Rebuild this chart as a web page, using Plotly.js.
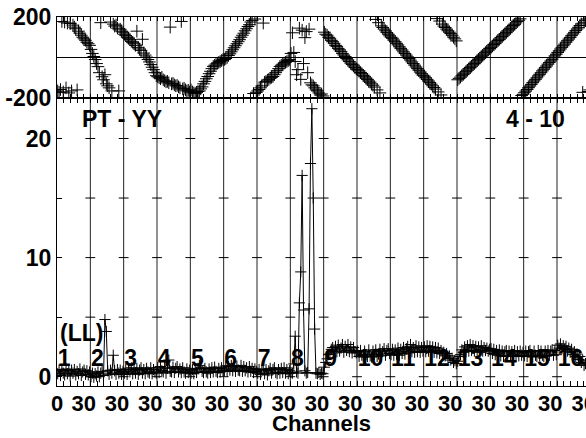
<!DOCTYPE html>
<html><head><meta charset="utf-8">
<script src="https://cdn.plot.ly/plotly-3.0.1.min.js"></script>
<style>html,body{margin:0;padding:0;background:#fff}</style>
</head><body><div id="chart" style="width:586px;height:438px"></div>
<script>
// ---- data: 16 IFs x 24 channels ----
const nCh = 24;
const ifLabels = ['1','2','3','4','5','6','7','8','9','10','11','12','13','14','15','16'];

// amplitude per IF
const amp1  = [0.25,0.55,0.10,0.60,0.30,0.15,0.65,0.25,0.50,0.05,0.55,0.30,0.60,0.15,0.45,0.25,0.65,0.10,0.40,0.55,0.20,0.50,0.15,0.40];
const amp2  = [0.00,0.30,-0.05,0.25,0.05,0.40,0.00,0.30,0.45,0.10,4.80,3.80,0.50,0.20,0.55,0.30,1.80,0.50,0.20,0.60,0.30,0.55,0.20,0.45];
const amp3  = [0.30,0.65,0.20,0.60,0.40,0.75,0.25,0.60,0.30,0.70,0.20,0.55,0.75,0.30,0.60,0.25,0.70,0.40,0.30,0.75,0.25,0.60,0.40,0.30];
const amp4  = [0.75,0.35,0.85,0.50,0.40,0.80,0.30,0.70,1.40,0.45,0.40,0.80,0.35,0.70,0.85,0.40,0.65,0.35,0.75,0.40,0.30,0.65,0.35,0.55];
const amp5  = [0.30,0.60,0.25,0.65,0.35,0.70,0.95,0.80,0.45,0.35,0.70,0.40,0.30,0.65,0.35,0.75,0.40,0.80,0.45,0.35,0.70,0.40,0.75,0.50];
const amp6  = [0.50,0.90,0.45,0.85,0.55,0.95,0.50,0.85,0.45,0.90,0.55,0.50,0.95,0.45,0.85,0.50,0.75,0.40,0.85,0.45,0.70,0.35,0.65,0.45];
const amp7  = [0.30,0.60,0.20,0.55,0.65,0.25,0.60,0.15,0.50,0.70,0.30,0.60,0.75,0.35,0.25,0.60,0.30,0.70,0.35,0.75,0.30,0.60,0.25,0.50];
const amp8  = [0.35,0.30,1.07,3.40,0.40,0.30,6.20,8.80,16.9,5.60,0.50,0.30,0.35,5.70,17.9,22.5,15.0,4.00,0.30,0.25,0.35,0.20,0.30,0.25];
const amp9  = [0.80,1.20,1.50,1.85,1.90,2.30,2.45,2.00,2.55,2.10,2.65,2.15,2.40,2.70,2.05,2.55,2.20,2.70,2.10,2.50,2.00,2.45,2.10,2.00];
const amp10 = [2.15,1.70,2.20,1.80,1.65,2.15,1.85,1.70,2.25,1.75,1.65,2.15,1.85,2.25,1.70,1.90,2.30,1.75,2.10,2.35,1.80,2.20,2.35,1.95];
const amp11 = [1.85,2.30,1.80,2.25,1.90,2.40,1.80,2.30,1.95,2.45,1.90,2.35,2.55,2.00,2.70,2.10,2.45,2.05,2.60,2.10,2.50,2.05,2.45,2.15];
const amp12 = [2.50,2.10,2.60,2.15,2.55,2.10,2.50,2.05,2.45,2.00,2.40,1.95,2.20,1.90,2.05,1.75,1.95,1.55,1.75,1.40,1.55,1.20,1.35,1.10];
const amp13 = [1.30,1.70,1.85,2.25,2.05,2.50,2.10,2.60,2.15,2.70,2.20,2.60,2.15,2.55,2.10,2.50,2.05,2.60,2.15,2.45,2.20,2.40,2.15,2.30];
const amp14 = [2.35,1.95,2.30,1.85,2.20,1.80,2.25,1.75,2.15,1.70,2.10,2.20,1.75,2.15,1.70,2.10,1.75,2.20,1.70,2.10,1.75,2.15,1.80,2.05];
const amp15 = [1.75,2.15,1.70,2.10,2.20,1.75,1.65,2.15,1.80,1.70,2.20,1.75,2.15,1.80,1.70,2.15,1.75,2.20,1.80,2.15,2.25,1.80,2.20,1.85];
const amp16 = [2.65,2.40,2.75,2.35,2.60,2.30,2.55,2.15,2.40,2.05,2.30,1.85,2.10,1.70,1.90,1.45,1.70,1.20,1.40,0.95,1.10,0.75,0.90,0.60];

// phase per IF (degrees)
const ph1  = [-165,-172,-158,178,-170,175,-150,170,-175,168,-165,160,150,142,-160,130,120,110,100,92,85,75,68,60];
const ph2  = [40,20,5,-10,-30,-45,-75,172,-95,-110,-85,-130,-140,-150,175,-165,165,155,160,145,-165,140,130,125];
const ph3  = [115,108,100,95,88,80,75,68,60,130,50,42,35,90,22,12,2,-10,-22,-35,-48,-60,-75,-90];
const ph4  = [-95,-100,-105,-98,-110,-115,-120,-118,-125,150,-130,-128,-135,-140,-138,-145,-150,178,-155,-152,-160,-165,-162,-170];
const ph5  = [-160,-170,-175,-178,-172,-168,-165,-155,-145,-130,-118,-105,-94,-80,-68,-55,-44,-38,-32,-28,-24,-20,-15,-10];
const ph6  = [-10,-5,0,10,18,28,38,48,58,68,78,88,100,110,120,132,142,153,162,175,183,-178,190,-172];
const ph7  = [-165,-158,-150,-140,170,-122,-118,-112,-108,-102,-98,-94,-85,-75,-65,-55,-44,-38,-33,-28,-24,-20,-15,-10];
const ph8  = [20,122,25,-20,-85,-60,145,-108,135,-30,98,128,-75,140,-125,-135,-140,-150,-160,-165,-175,-185,-180,-190];
const ph9  = [125,115,110,100,95,85,78,70,60,55,45,38,30,20,12,5,-5,-12,-20,-28,-35,-42,-50,-57];
const ph10 = [-60,-66,-74,-80,-88,-95,-102,-108,-116,-122,-130,-137,-146,188,-160,172,-175,156,148,140,132,123,115,107];
const ph11 = [100,95,86,78,70,62,53,45,37,28,20,12,3,-5,-13,-22,-30,-38,-47,-55,-63,-72,-80,-88];
const ph12 = [-92,-100,-108,-116,-124,-132,-140,-148,-156,192,-170,180,-185,165,155,148,140,132,125,118,110,100,92,82];
const ph13 = [-110,-103,-97,-90,-83,-77,-70,-63,-56,-50,-43,-36,-30,-23,-16,-9,-3,4,11,17,24,31,37,44];
const ph14 = [50,57,64,70,77,84,90,97,104,111,117,124,131,137,144,151,158,164,171,178,184,191,-188,-182];
const ph15 = [-174,-166,-158,-149,-141,-133,-124,-116,-108,-100,-91,-83,-75,-66,-58,-50,-42,-33,-25,-17,-9,0,8,16];
const ph16 = [25,33,42,50,58,66,75,83,91,99,108,116,124,133,141,149,158,166,-172,174,182,190,-168,-160];

const ampSeg = [amp1,amp2,amp3,amp4,amp5,amp6,amp7,amp8,amp9,amp10,amp11,amp12,amp13,amp14,amp15,amp16];
const phSeg  = [ph1,ph2,ph3,ph4,ph5,ph6,ph7,ph8,ph9,ph10,ph11,ph12,ph13,ph14,ph15,ph16];

// axis tick labels
const firstChanLabel = '0';
const chanLabel = '30';
const ampTickVals = [0,5,10,15,20];
const ampTickText = ['0','','10','','20'];
const phTickVals = [-200,0,200];
const phTickText = ['-200','','200'];

// ---- build ----
const nIF = ifLabels.length;
const X = [], A = [], P = [];
for (let i = 0; i < nIF; i++) {
  for (let k = 0; k < nCh; k++) {
    X.push(i + (k + 0.5) / nCh);
    A.push(ampSeg[i][k]);
    P.push(phSeg[i][k]);
  }
}
const tv = [], tt = [];
for (let i = 0; i <= nIF; i++) {
  for (let j = 0; j < 5; j++) {
    const v = +(i + j * 0.2).toFixed(2);
    if (v > nIF) break;
    tv.push(v);
    tt.push(v === 0 ? firstChanLabel : (j === 4 ? chanLabel : ''));
  }
}
const gx = [], gy = [];
for (let i = 1; i <= nIF; i++) for (const v of ampTickVals) { gx.push(i); gy.push(v); }

const F = 'Liberation Sans, Arial, sans-serif';
const bold = {family: F, size: 23, color: '#000', weight: 'bold'};
const boldX = {family: F, size: 22, color: '#000', weight: 'bold'};

const traces = [
  {x: gx, y: gy, xaxis: 'x', yaxis: 'y', mode: 'markers', cliponaxis: false, hoverinfo: 'skip',
   marker: {symbol: 'line-ew', size: 7, color: '#000', line: {width: 1, color: '#000'}}, showlegend: false},
  {x: ifLabels.map((_, i) => i + 0.02), y: ifLabels.map(() => 1.4), xaxis: 'x', yaxis: 'y', mode: 'text',
   text: ifLabels, textposition: 'middle right', textfont: bold, showlegend: false, hoverinfo: 'skip'},
  {x: X, y: A, xaxis: 'x', yaxis: 'y', mode: 'lines+markers', showlegend: false,
   line: {color: '#000', width: 1},
   marker: {symbol: 'cross-thin-open', size: 8, color: '#000', line: {width: 1, color: '#000'}}},
  {x: X, y: P, xaxis: 'x2', yaxis: 'y2', mode: 'markers', showlegend: false,
   marker: {symbol: 'cross-thin-open', size: 9, color: '#000', line: {width: 1, color: '#000'}}}
];

const shapes = [];
for (let i = 1; i < nIF; i++) {
  shapes.push({type: 'line', xref: 'x', yref: 'paper', x0: i, x1: i, y0: 0, y1: 1, layer: 'below',
               line: {color: '#222', width: 1}});
}

const split = 0.7805;
const layout = {
  width: 586, height: 438,
  margin: {l: 57, r: 0, t: 17, b: 52},
  paper_bgcolor: '#fff', plot_bgcolor: '#fff',
  font: bold,
  showlegend: false,
  xaxis: {anchor: 'y', domain: [0, 1], range: [0, 15.87], tickmode: 'array', tickvals: tv, ticktext: tt,
          ticks: 'inside', ticklen: 5, tickcolor: '#000', showline: true, linecolor: '#000', mirror: 'ticks',
          showgrid: false, zeroline: false, tickfont: boldX, tickangle: 0, ticklabeloverflow: 'allow',
          ticklabelstandoff: -2},
  xaxis2: {anchor: 'y2', matches: 'x', range: [0, 15.87], tickmode: 'array', tickvals: tv, showticklabels: false,
           ticks: 'inside', ticklen: 4, tickcolor: '#000', showline: true, linecolor: '#000', mirror: 'ticks',
           showgrid: false, zeroline: false},
  yaxis: {anchor: 'x', domain: [0, split], range: [-0.78, 23.4], tickmode: 'array', tickvals: ampTickVals,
          ticktext: ampTickText, ticks: 'inside', ticklen: 5, tickcolor: '#000', showline: true, linecolor: '#000',
          showgrid: false, zeroline: false, tickfont: bold},
  yaxis2: {anchor: 'x2', domain: [split, 1], range: [-200, 200], tickmode: 'array', tickvals: phTickVals,
           ticktext: phTickText, ticks: '', showline: true, linecolor: '#000',
           showgrid: true, gridcolor: '#000', gridwidth: 1, zeroline: false, tickfont: bold},
  shapes: shapes,
  annotations: [
    {text: 'Channels', xref: 'paper', yref: 'paper', x: 0.5, y: 0, xanchor: 'center', yanchor: 'top',
     yshift: -23, showarrow: false, font: {family: F, size: 22, color: '#000', weight: 'bold'}},
    {text: 'PT - YY', xref: 'x', yref: 'y', x: 0.7, y: 21.6, xanchor: 'left', yanchor: 'middle', showarrow: false, font: bold},
    {text: '4 - 10', xref: 'x', yref: 'y', x: 15.31, y: 21.6, xanchor: 'right', yanchor: 'middle', showarrow: false, font: bold},
    {text: '(LL)', xref: 'x', yref: 'y', x: 0.03, y: 3.67, xanchor: 'left', yanchor: 'middle', showarrow: false, font: bold}
  ]
};

Plotly.newPlot('chart', traces, layout, {displayModeBar: false, staticPlot: true});
</script></body></html>
